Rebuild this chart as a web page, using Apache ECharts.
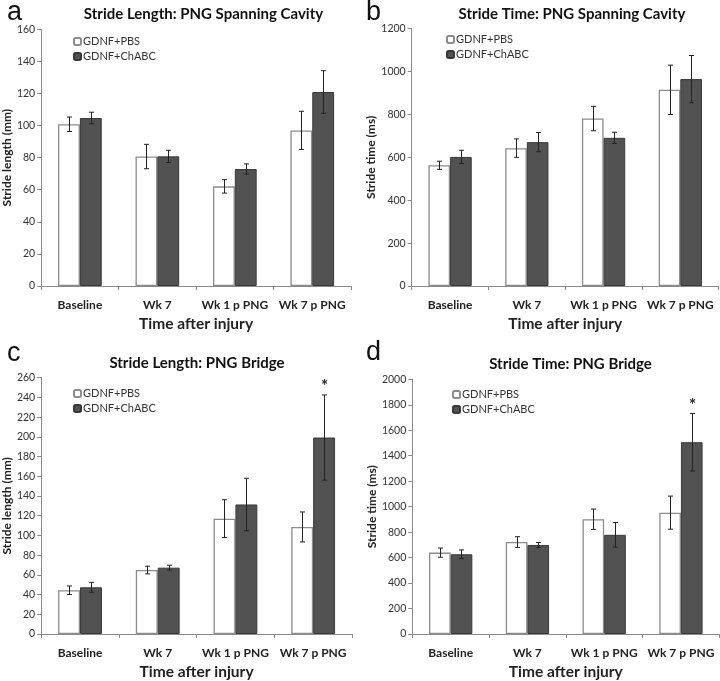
<!DOCTYPE html>
<html>
<head>
<meta charset="utf-8">
<script src="https://cdn.jsdelivr.net/npm/echarts@6/dist/echarts.min.js"></script>
<style>
html,body{margin:0;padding:0;background:#fff;}
#chart{width:720px;height:681px;}
</style>
</head>
<body>
<div id="chart"></div>
<script>
// ---- data ----
var categories = ['Baseline', 'Wk 7', 'Wk 1 p PNG', 'Wk 7 p PNG'];
var seriesNames = ['GDNF+PBS', 'GDNF+ChABC'];

// panel a: Stride Length, PNG Spanning Cavity (mm)
var aPBS = [100.8, 80.7, 62.1, 97.0];
var aPBSErr = [4.5, 7.6, 4.2, 11.9];
var aChABC = [104.7, 80.8, 72.9, 120.9];
var aChABCErr = [3.6, 3.8, 3.2, 13.3];

// panel b: Stride Time, PNG Spanning Cavity (ms)
var bPBS = [563, 643, 781, 915];
var bPBSErr = [19, 43, 57, 115];
var bChABC = [602, 671, 691, 965];
var bChABCErr = [31, 45, 26, 110];

// panel c: Stride Length, PNG Bridge (mm)
var cPBS = [44.4, 64.9, 117.0, 108.6];
var cPBSErr = [4.3, 3.9, 19.2, 15.2];
var cChABC = [47.4, 67.3, 131.4, 199.3];
var cChABCErr = [5.0, 2.5, 26.6, 43.2];
var cSig = [0, 0, 0, 1];

// panel d: Stride Time, PNG Bridge (ms)
var dPBS = [639, 722, 901, 953];
var dPBSErr = [36, 42, 80, 130];
var dChABC = [626, 699, 779, 1506];
var dChABCErr = [34, 20, 97, 226];
var dSig = [0, 0, 0, 1];

var panelTitles = ['Stride Length: PNG Spanning Cavity', 'Stride Time: PNG Spanning Cavity',
                   'Stride Length: PNG Bridge', 'Stride Time: PNG Bridge'];
var panelLetters = ['a', 'b', 'c', 'd'];
var yNames = ['Stride length (mm)', 'Stride time (ms)', 'Stride length (mm)', 'Stride time (ms)'];
var yMax = [160, 1200, 260, 2000];
var yInterval = [20, 200, 20, 200];
var xName = 'Time after injury';

// ---- layout ----
var FONT = 'Lato';
var grids = [
  {left: 39, top: 29.3, width: 312, height: 256.7},
  {left: 411.7, top: 28.7, width: 307, height: 257.3},
  {left: 40, top: 377.7, width: 312, height: 257.6},
  {left: 412.3, top: 379.3, width: 307, height: 256.7}
];
var CAT_GAP = 0.436;
var panels = [
  {pbs: aPBS, pbsE: aPBSErr, ch: aChABC, chE: aChABCErr, sig: [0,0,0,0]},
  {pbs: bPBS, pbsE: bPBSErr, ch: bChABC, chE: bChABCErr, sig: [0,0,0,0]},
  {pbs: cPBS, pbsE: cPBSErr, ch: cChABC, chE: cChABCErr, sig: cSig},
  {pbs: dPBS, pbsE: dPBSErr, ch: dChABC, chE: dChABCErr, sig: dSig}
];
var legendPos = [
  {left: 73, top: 36},
  {left: 446, top: 34},
  {left: 73, top: 388},
  {left: 452, top: 389}
];
var titlePos = [
  {x: 198.5, y: 2},
  {x: 567, y: 2},
  {x: 192, y: 351},
  {x: 565.5, y: 352}
];
var letterPos = [
  {x: 2, y: -6}, {x: 361, y: -6}, {x: 2, y: 335}, {x: 361, y: 334}
];

var option = {
  backgroundColor: '#fff',
  animation: false,
  grid: grids.map(function (g) { return Object.assign({containLabel: false}, g); }),
  title: [],
  legend: [],
  xAxis: [],
  yAxis: [],
  series: []
};

var axisColor = '#8a8a8a';

panels.forEach(function (p, i) {
  option.title.push({
    text: panelTitles[i], left: titlePos[i].x, top: titlePos[i].y, textAlign: 'center',
    textStyle: {fontFamily: FONT, fontWeight: 'bold', fontSize: 15, color: '#111'}
  });
  option.title.push({
    text: panelLetters[i], left: letterPos[i].x, top: letterPos[i].y,
    textStyle: {fontFamily: 'Liberation Sans', fontWeight: 'normal', fontSize: 27, color: '#111'}
  });
  option.legend.push({
    orient: 'vertical', left: legendPos[i].left, top: legendPos[i].top,
    itemWidth: 7, itemHeight: 7, itemGap: 4, padding: 0,
    data: seriesNames, selectedMode: false,
    textStyle: {fontFamily: FONT, fontSize: 11, color: '#333', padding: [0, 0, 0, -3]}
  });
  option.xAxis.push({
    type: 'category', gridIndex: i, data: categories,
    axisLine: {lineStyle: {color: axisColor, width: 1}},
    axisTick: {show: true, length: 4, lineStyle: {color: axisColor}},
    axisLabel: {interval: 0, fontFamily: FONT, fontWeight: 'bold', fontSize: 12, color: '#222', margin: 13},
    name: xName, nameLocation: 'middle', nameGap: 30,
    nameTextStyle: {fontFamily: FONT, fontWeight: 'bold', fontSize: 15.5, color: '#222'}
  });
  option.yAxis.push({
    type: 'value', gridIndex: i, min: 0, max: yMax[i], interval: yInterval[i],
    axisLine: {show: true, lineStyle: {color: axisColor, width: 1}},
    axisTick: {show: true, length: 4, lineStyle: {color: axisColor}},
    splitLine: {show: false},
    axisLabel: {fontFamily: FONT, fontSize: 10.5, color: '#333', margin: 6,
      formatter: function (v) { return String(v); }},
    name: yNames[i], nameLocation: 'middle', nameGap: i % 2 === 0 ? 27 : 31,
    nameTextStyle: {fontFamily: FONT, fontWeight: 'bold', fontSize: 12, color: '#222'}
  });
  option.series.push({
    name: seriesNames[0], type: 'bar', xAxisIndex: i, yAxisIndex: i,
    data: p.pbs, barGap: '0%', barCategoryGap: (CAT_GAP * 100) + '%',
    itemStyle: {color: '#ffffff', borderColor: '#8c8c8c', borderWidth: 1.3}
  });
  option.series.push({
    name: seriesNames[1], type: 'bar', xAxisIndex: i, yAxisIndex: i,
    data: p.ch, barGap: '0%', barCategoryGap: (CAT_GAP * 100) + '%',
    itemStyle: {color: '#525252', borderColor: '#383838', borderWidth: 1}
  });
  // error bars & significance marks
  var errData = [];
  for (var k = 0; k < categories.length; k++) {
    errData.push([k, p.pbs[k], p.pbsE[k], 0, 0]);
    errData.push([k, p.ch[k], p.chE[k], 1, p.sig[k]]);
  }
  option.series.push({
    type: 'custom', xAxisIndex: i, yAxisIndex: i, silent: true, z: 5,
    data: errData,
    renderItem: function (params, api) {
      var cat = api.value(0), mean = api.value(1), e = api.value(2), s = api.value(3), sig = api.value(4);
      var catW = api.size([1, 0])[0];
      var bw = catW * (1 - CAT_GAP) / 2;
      var c = api.coord([cat, mean]);
      var x = Math.round(c[0] + (s === 0 ? -bw / 2 : bw / 2)) + 0.5;
      var top = api.coord([cat, mean + e])[1];
      var bot = api.coord([cat, mean - e])[1];
      var cap = 2.5;
      var st = {stroke: '#222', lineWidth: 1};
      var children = [
        {type: 'line', shape: {x1: x, y1: top, x2: x, y2: bot}, style: st},
        {type: 'line', shape: {x1: x - cap, y1: top, x2: x + cap, y2: top}, style: st},
        {type: 'line', shape: {x1: x - cap, y1: bot, x2: x + cap, y2: bot}, style: st}
      ];
      if (sig) {
        children.push({type: 'text', style: {text: '*', x: x, y: top - 8, align: 'center', verticalAlign: 'middle',
          font: 'bold 17px Lato', fill: '#222'}});
      }
      return {type: 'group', children: children};
    }
  });
});

var chart = echarts.init(document.getElementById('chart'), null, {renderer: 'canvas'});
chart.setOption(option);
</script>
</body>
</html>
